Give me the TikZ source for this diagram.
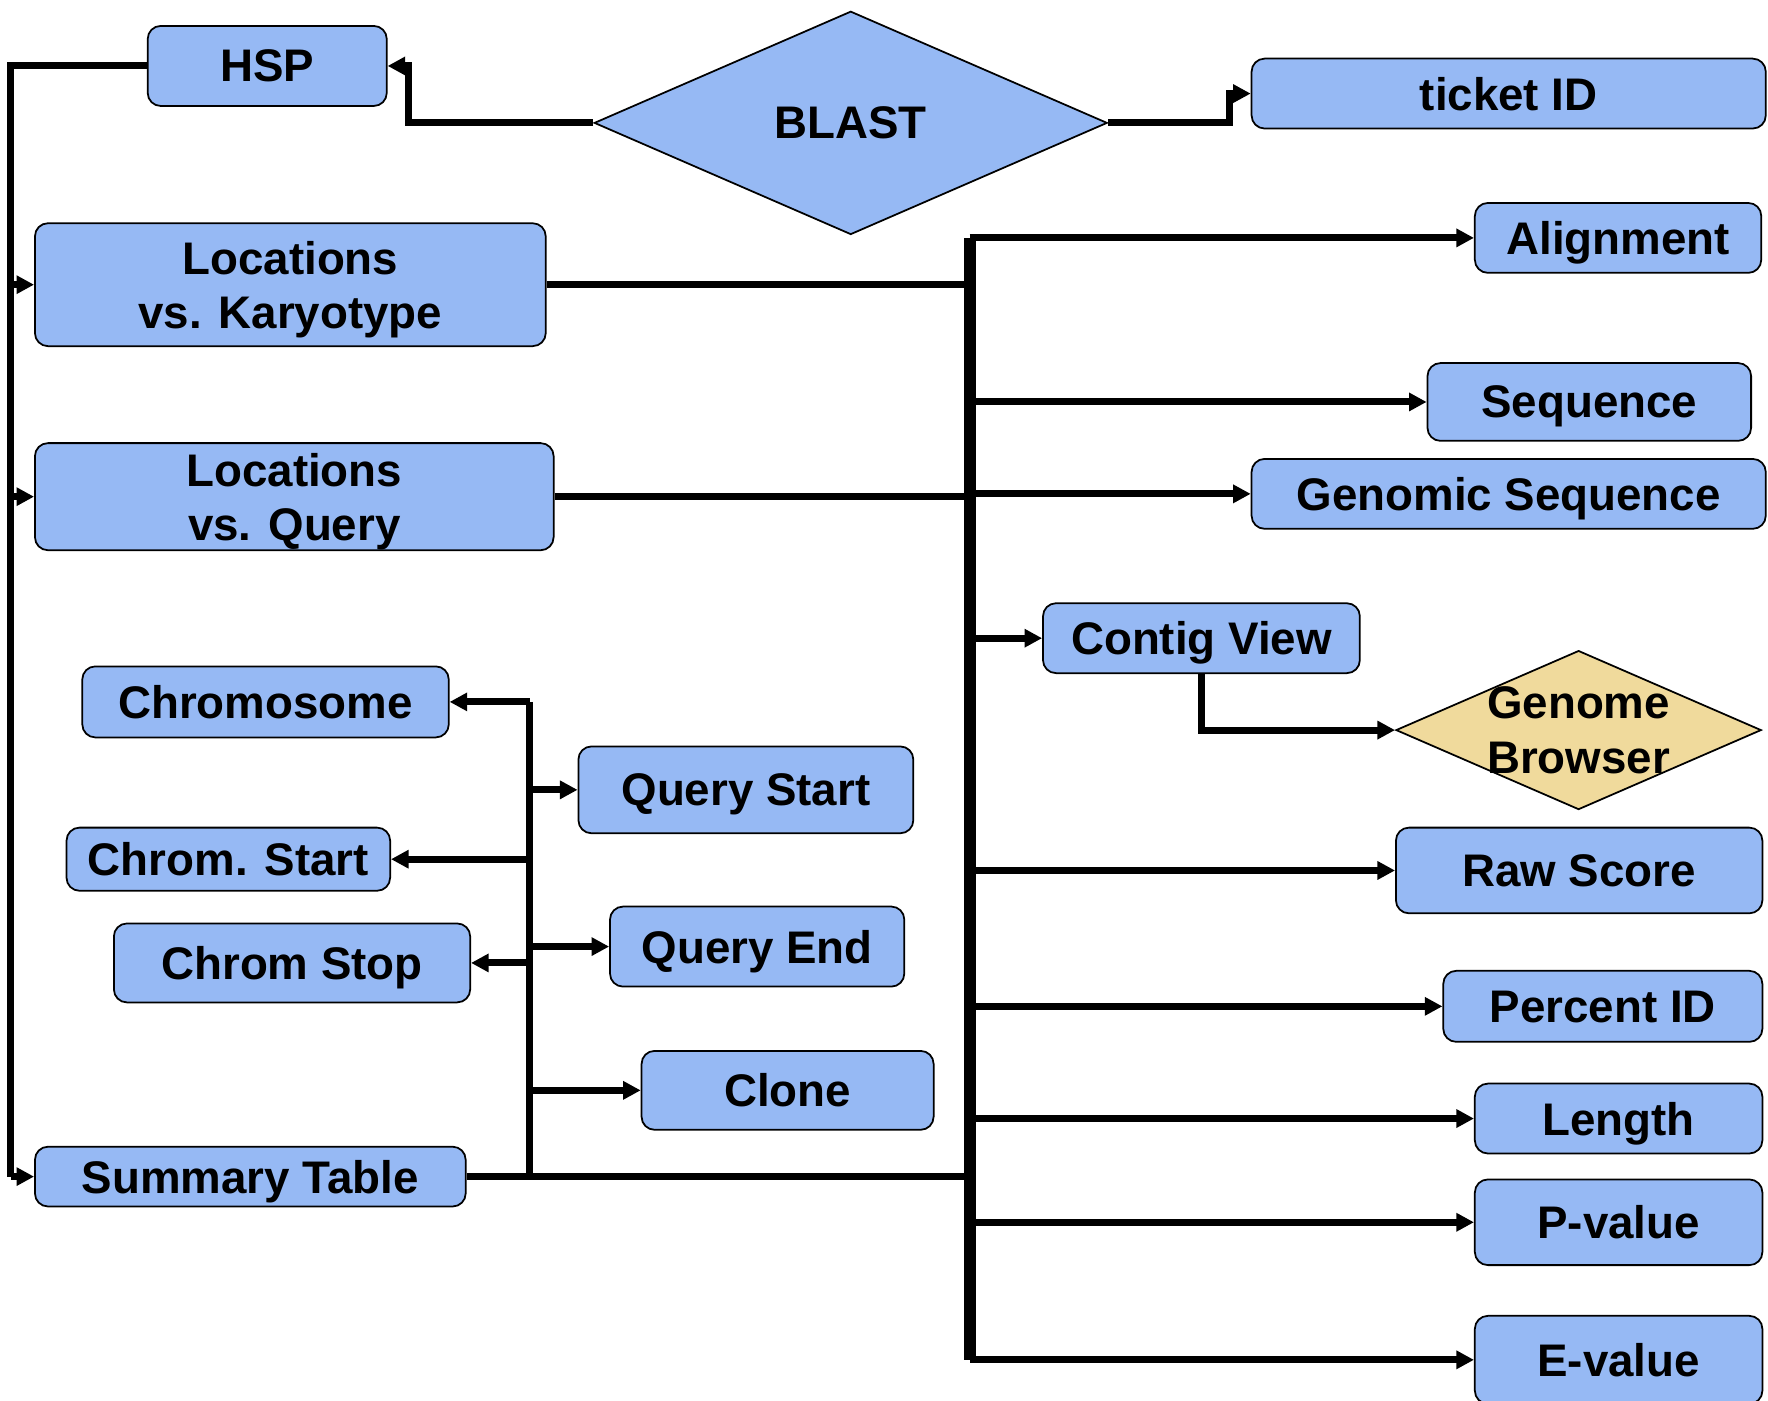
\documentclass[tikz,border=0pt]{standalone}
\usepackage{fontspec}
\setmainfont{Liberation Sans}
\usetikzlibrary{arrows.meta,shapes.geometric}
\definecolor{boxblue}{HTML}{96B9F4}
\definecolor{browsertan}{HTML}{F0DA9C}
\newcommand{\px}{0.01128cm}
\newcommand{\boxfont}{\bfseries\fontsize{13}{15.5}\selectfont}
\tikzset{
 box/.style={draw,fill=boxblue,rounded corners=3.7pt,line width=.5pt,inner sep=0pt,text depth=0pt,align=center,font=\boxfont},
 wh/.style 2 args={minimum width=#1*\px,minimum height=#2*\px},
 rhomb/.style={diamond,draw,line width=.5pt,inner sep=0pt,font=\boxfont},
 wire/.style={line width=2pt},
 link/.style={line width=2pt,-{Triangle[length=5pt,width=5pt]}},
}
\begin{document}
\begin{tikzpicture}[x=0.01128cm,y=-0.01128cm]
\useasboundingbox (0,0) rectangle (1568,1242);
\node[box,wh={212}{71}] (hsp) at (237,58.5) {HSP};
\node[rhomb,fill=boxblue,wh={455}{198}] (blast) at (754.5,109) {BLAST};
\node[box,wh={456}{62}] (ticket) at (1338,83) {ticket ID};
\node[box,wh={453}{109}] (lockar) at (257.5,252.5) {Locations\\vs. Karyotype};
\node[box,wh={254}{62}] (aln) at (1435,211) {Alignment};
\node[box,wh={287}{69}] (seq) at (1409.5,356.5) {Sequence};
\node[box,wh={460}{95}] (locq) at (261,440.5) {Locations\\vs. Query};
\node[box,wh={456}{62}] (genseq) at (1338,438) {Genomic Sequence};
\node[box,wh={281}{62}] (contig) at (1065.5,566) {Contig View};
\node[rhomb,fill=browsertan,wh={324}{141},
 label={[font=\boxfont,align=center]center:Genome\\Browser}] (browser) at (1400,647.5) {};
\node[box,wh={325}{63}] (chrom) at (235.5,622.5) {Chromosome};
\node[box,wh={297}{77}] (qstart) at (661.5,700.5) {Query Start};
\node[box,wh={287}{56}] (cstart) at (202.5,762) {Chrom. Start};
\node[box,wh={261}{71}] (qend) at (671.5,839.5) {Query End};
\node[box,wh={316}{70}] (cstop) at (259,854) {Chrom Stop};
\node[box,wh={259}{70}] (clone) at (698.5,967) {Clone};
\node[box,wh={382}{53}] (summ) at (222,1043.5) {Summary Table};
\node[box,wh={325}{76}] (raw) at (1400.5,772) {Raw Score};
\node[box,wh={283}{63}] (pid) at (1421.5,892.5) {Percent ID};
\node[box,wh={255}{62}] (len) at (1435.5,992) {Length};
\node[box,wh={255}{76}] (pval) at (1435.5,1084) {P-value};
\node[box,wh={255}{78}] (eval) at (1435.5,1206) {E-value};
\coordinate (lbus) at (9.5,0);
\coordinate (sbus) at (470,0);
\coordinate (trunk) at (860,0);
\draw[link] (blast.west) -- ++(-164,0) |- (hsp.east);
\draw[link] (blast.east) -- ++(108,0) |- (ticket.west);
\draw[wire] (hsp.west) -| (lbus |- summ.west);
\foreach \n in {lockar,locq,summ}
 \draw[link] (lbus |- \n.west) -- (\n.west);
\draw[line width=3.4pt] (trunk |- aln.west) -- (trunk |- eval.west);
\foreach \n in {lockar,locq,summ}
 \draw[wire] (\n.east) -- (\n.east -| trunk);
\foreach \n in {aln,seq,genseq,contig,raw,pid,len,pval,eval}
 \draw[link] (trunk |- \n.west) -- (\n.west);
\draw[link] (contig.south) |- (browser.west);
\draw[wire] (sbus |- chrom.east) -- (sbus |- summ.east);
\foreach \n in {chrom,cstart,cstop}
 \draw[link] (sbus |- \n.east) -- (\n.east);
\foreach \n in {qstart,qend,clone}
 \draw[link] (sbus |- \n.west) -- (\n.west);
\end{tikzpicture}
\end{document}
